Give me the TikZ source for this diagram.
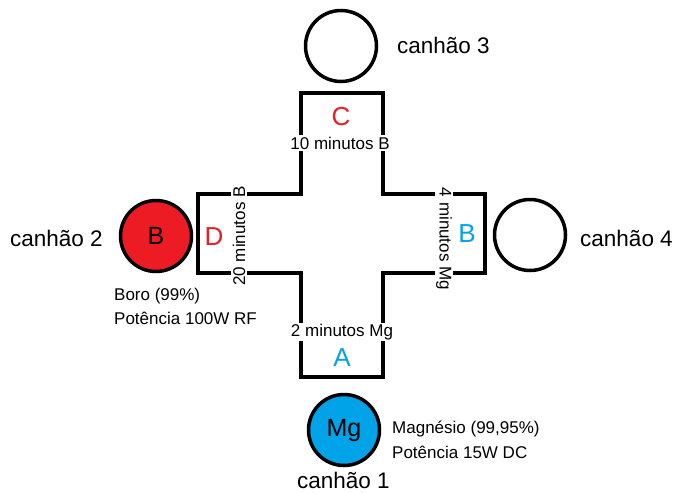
\documentclass[tikz,border=0pt]{standalone}
\usepackage{fontspec}
\setmainfont{Liberation Sans}
\definecolor{pred}{HTML}{ED1C24}
\definecolor{pblue}{HTML}{00A2E8}
\begin{document}
\begin{tikzpicture}[x=1pt,y=-1pt,
  wall/.style={line width=3.5pt, line join=miter},
  gun/.style={circle, draw, line width=3.5pt, minimum size=71pt, inner sep=0pt, font=\fontsize{25}{28}\selectfont},
  small/.style={font=\fontsize{17}{20}\selectfont},
  big/.style={font=\fontsize{22.5}{26}\selectfont, anchor=base west, inner sep=0pt},
  note/.style={small, anchor=base west, inner sep=0pt},
  letter/.style={font=\fontsize{26}{30}\selectfont, inner sep=0pt},
  lab/.style={small, fill=white, inner sep=1.5pt}]
\useasboundingbox (0,0) rectangle (676,493);
\fill[white] (0,0) rectangle (676,493);
% cross-shaped chamber
\draw[wall] (301,194) -- (301,93) -- (383,93) -- (383,194) -- (485,194) -- (485,273)
  -- (383,273) -- (383,377) -- (301,377) -- (301,273) -- (198,273) -- (198,194) -- cycle;
% guns
\node[gun] (g3) at (341,46) {};
\node[gun] (g4) at (530,235) {};
\node[gun, fill=pred] (g2) at (156,236) {B};
\node[gun, fill=pblue] (g1) at (344,430) {Mg};
% gun names
\node[big] (n3) at (397,53) {canhão 3};
\node[big] (n4) at (580,246) {canhão 4};
\node[big] (n2) at (10,246) {canhão 2};
\node[big] (n1) at (297,488) {canhão 1};
% target notes
\node[note] (b1) at (114,300) {Boro (99\%)};
\node[note] (b2) at (114,324) {Potência 100W RF};
\node[note] (m1) at (392,433) {Magnésio (99,95\%)};
\node[note] (m2) at (392,458) {Potência 15W DC};
% substrate positions
\node[letter, text=pred] (lc) at (341,117) {C};
\node[letter, text=pred] (ld) at (214,237) {D};
\node[letter, text=pblue] (lb) at (467,234) {B};
\node[letter, text=pblue] (la) at (342,358) {A};
% times
\node[lab] (t10) at (340,143) {10 minutos B};
\node[lab] (t2) at (342,332) {2 minutos Mg};
\node[lab, rotate=90] (t20) at (239,236) {20 minutos B};
\node[lab, rotate=-90] (t4) at (444,239) {4 minutos Mg};
\end{tikzpicture}
\end{document}
